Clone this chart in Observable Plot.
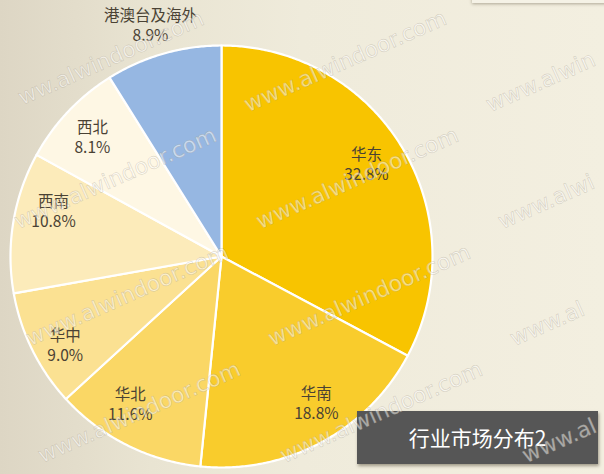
<!DOCTYPE html>
<html>
<head>
<meta charset="utf-8">
<script src="https://cdn.jsdelivr.net/npm/d3@7"></script>
<script src="https://cdn.jsdelivr.net/npm/@observablehq/plot@0.6"></script>
<style>
  html, body { margin: 0; padding: 0; }
  body { width: 604px; height: 474px; overflow: hidden; }
  #stage {
    position: relative; width: 604px; height: 474px; overflow: hidden;
    background: linear-gradient(90deg, #DDD6C4 0%, #E9E4D2 25%, #EFEBDB 50%, #F3EFE0 100%);
    font-family: "Noto Sans CJK SC", "Noto Sans", sans-serif;
  }
  #chart { position: absolute; left: 0; top: 0; }
  #chart svg { display: block; }
  #panel {
    position: absolute; left: 472px; top: -12px; width: 140px; height: 15px;
    background: #F5F2E6; box-shadow: 0 1px 3px rgba(90,80,60,0.45);
  }
  #titlebox {
    position: absolute; left: 357px; top: 411px; width: 241px; height: 53px;
    background: #565656; color: #ffffff; font-size: 21px; line-height: 53px;
    text-align: center; box-shadow: 1px 2px 3px rgba(60,50,30,0.45);
    font-family: "Noto Sans CJK SC", sans-serif;
  }
  #wm { position: absolute; left: 0; top: 0; width: 604px; height: 474px; pointer-events: none; }
  .wmt {
    position: absolute; white-space: nowrap; font-family: "DejaVu Sans", sans-serif;
    font-size: 22px; line-height: 22px; color: rgba(255,255,255,0.5);
    -webkit-text-stroke: 0.7px rgba(150,140,120,0.32);
    transform-origin: 0 100%; transform: rotate(-24deg);
  }
</style>
</head>
<body>
<div id="stage">
  <div id="panel"></div>
  <div id="chart"></div>
  <div id="titlebox">行业市场分布2</div>
  <div id="wm"></div>
</div>
<script>
// ---- data ----
const regions = ["华东", "华南", "华北", "华中", "西南", "西北", "港澳台及海外"];
const shares = [32.8, 18.8, 11.6, 9.0, 10.8, 8.1, 8.9];
const shareLabels = ["32.8%", "18.8%", "11.6%", "9.0%", "10.8%", "8.1%", "8.9%"];
const sliceColors = ["#F8C400", "#F9CC2C", "#FAD765", "#FBE192", "#FCEBBA", "#FEF7E4", "#96B7E2"];
// label placement (best-fit style): radius fraction and angular nudge in degrees
const labelRadius = [0.816, 0.826, 0.82, 0.85, 0.825, 0.835, 1.15];
const labelShiftDeg = [-1.7, -4.9, 5.2, -3.1, 5.9, -0.5, -1];
const titleText = "行业市场分布2";
const watermark = "www.alwindoor.com";

// ---- layout ----
const W = 604, H = 474, CX = 221, CY = 256, R = 211;

const arcs = d3.pie().sort(null).value(d => d)(shares);
const pts = [];
arcs.forEach((a, i) => {
  const reg = regions[i];
  pts.push({region: reg, x: 0, y: 0});
  const n = Math.max(8, Math.ceil((a.endAngle - a.startAngle) / (Math.PI / 360)));
  for (let k = 0; k <= n; k++) {
    const t = a.startAngle + (a.endAngle - a.startAngle) * k / n;
    pts.push({region: reg, x: Math.sin(t), y: Math.cos(t)});
  }
  pts.push({region: reg, x: 0, y: 0});
});
const labels = arcs.map((a, i) => {
  const m = (a.startAngle + a.endAngle) / 2 + labelShiftDeg[i] * Math.PI / 180;
  return {x: labelRadius[i] * Math.sin(m), y: labelRadius[i] * Math.cos(m), text: regions[i] + "\n" + shareLabels[i]};
});

const plot = Plot.plot({
  width: W, height: H,
  margin: 0,
  style: {background: "transparent", overflow: "visible"},
  x: {domain: [-CX / R, (W - CX) / R], axis: null},
  y: {domain: [(CY - H) / R, CY / R], axis: null},
  color: {domain: regions, range: sliceColors},
  marks: [
    Plot.line(pts, {x: "x", y: "y", z: "region", fill: "region", stroke: "#ffffff", strokeWidth: 2.2, strokeLinejoin: "round"}),
    Plot.text(labels, {x: "x", y: "y", text: "text", fill: "#4A4234", fontSize: 15.5, lineHeight: 1.29,
      fontFamily: "'Noto Sans CJK SC', 'Noto Sans', sans-serif"})
  ]
});
document.getElementById("chart").appendChild(plot);
document.getElementById("titlebox").textContent = titleText;

// ---- watermark overlay (only the parts that fit inside the frame are written) ----
const wm = document.getElementById("wm");
const ctx = document.createElement("canvas").getContext("2d");
ctx.font = "22px 'DejaVu Sans'";
const th = 24 * Math.PI / 180, cs = Math.cos(th), sn = Math.sin(th);
const LH = 22;
function fits(x, y, w) {
  const corners = [[x, y], [x + w * cs, y - w * sn], [x - LH * sn, y - LH * cs], [x + w * cs - LH * sn, y - w * sn - LH * cs]];
  return corners.every(([px, py]) => px >= 1 && px <= W - 1 && py >= 1 && py <= H - 1);
}
for (let r = -1; r < 5; r++) {
  for (let c = -1; c < 3; c++) {
    const x0 = 8 + 12 * r + 242 * c;
    const y0 = 116 + 117 * r;
    let best = null;
    for (let i = 0; i < watermark.length; i++) {
      const off = ctx.measureText(watermark.slice(0, i)).width;
      for (let j = watermark.length; j > i + 3; j--) {
        const s = watermark.slice(i, j);
        const w = ctx.measureText(s).width;
        const sx = x0 + off * cs, sy = y0 - off * sn;
        if (fits(sx, sy, w)) {
          if (!best || s.length > best.s.length) best = {s, sx, sy};
          break;
        }
      }
    }
    if (best) {
      const d = document.createElement("div");
      d.className = "wmt";
      d.textContent = best.s;
      d.style.left = best.sx + "px";
      d.style.top = (best.sy - LH) + "px";
      wm.appendChild(d);
    }
  }
}
</script>
</body>
</html>
